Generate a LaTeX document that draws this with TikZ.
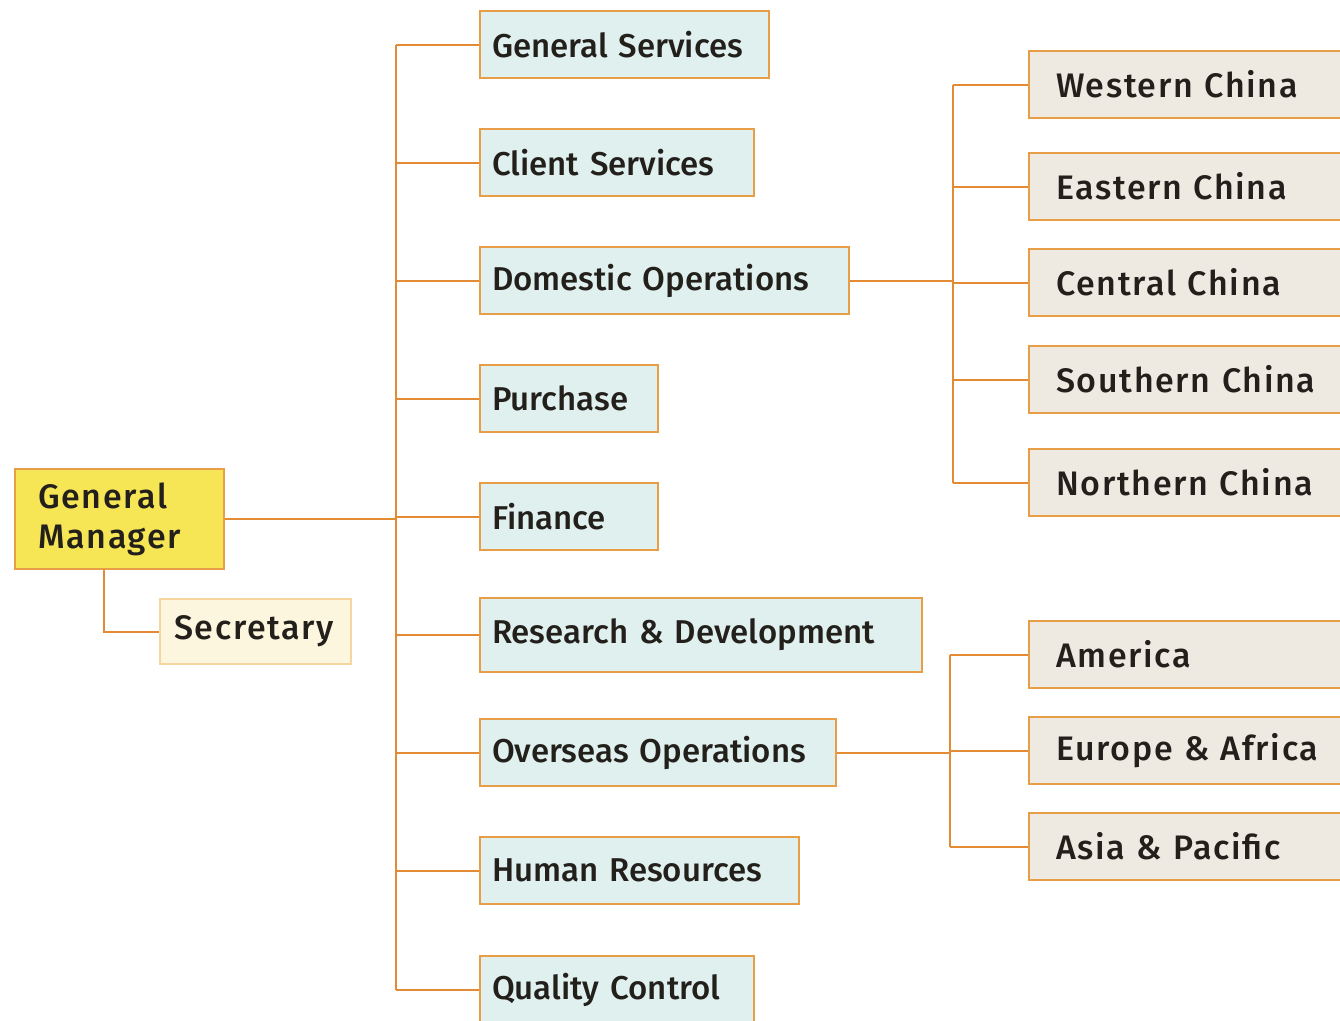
\documentclass[tikz,border=0pt]{standalone}
\usepackage{fontspec}
\setmainfont{Fira Sans}[UprightFont=* Medium]
\newfontfamily\widefont{Fira Sans}[UprightFont=* Medium, LetterSpace=5]
\usetikzlibrary{positioning}
\definecolor{orgorange}{RGB}{226,138,52}
\definecolor{orgedge}{RGB}{232,158,70}
\definecolor{orgtext}{RGB}{35,32,28}
\definecolor{unitfill}{RGB}{223,240,238}
\definecolor{regionfill}{RGB}{238,234,226}
\definecolor{headfill}{RGB}{246,230,86}
\definecolor{aidefill}{RGB}{253,246,222}
\definecolor{aideedge}{RGB}{246,214,158}
\tikzset{
  orgline/.style={line width=2pt, orgorange},
  orgbox/.style={rectangle, draw=orgedge, line width=2pt, anchor=north west,
                 align=left, inner ysep=0pt, text=orgtext,
                 font=\fontsize{33}{40}\selectfont},
  widebox/.style={orgbox, font=\widefont\fontsize{34}{40}\selectfont},
  unitbox/.style={orgbox, fill=unitfill, minimum height=67pt, inner xsep=12pt,
                  text width=#1},
  regionbox/.style={widebox, fill=regionfill, minimum height=67pt, inner xsep=27pt,
                    text width=300pt},
  headbox/.style={widebox, fill=headfill, minimum height=100pt, inner xsep=23pt,
                  text width=163pt},
  aidebox/.style={widebox, fill=aidefill, draw=aideedge, minimum height=65pt,
                  inner xsep=14pt, text width=163pt},
}
\begin{document}
\begin{tikzpicture}[x=1pt, y=-1pt]
  \useasboundingbox (0,0) rectangle (1340,1020);
  \clip (0,0) rectangle (1340,1020);
  \fill[white] (0,0) rectangle (1340,1020);

  % head and assistant
  \node[headbox] (gm)  at (14,468)  {General\\Manager};
  \node[aidebox] (sec) at (159,598) {Secretary};

  % departments
  \node[unitbox=265pt] (gs)  at (479,10)  {General Services};
  \node[unitbox=250pt] (cs)  at (479,128) {Client Services};
  \node[unitbox=345pt] (dom) at (479,246) {Domestic Operations};
  \node[unitbox=154pt] (pur) at (479,364) {Purchase};
  \node[unitbox=154pt] (fin) at (479,482) {Finance};
  \node[unitbox=418pt, minimum height=74pt] (rnd) at (479,597) {Research \& Development};
  \node[unitbox=332pt] (ovs) at (479,718) {Overseas Operations};
  \node[unitbox=295pt] (hr)  at (479,836) {Human Resources};
  \node[unitbox=250pt] (qc)  at (479,955) {Quality Control};

  % domestic regions
  \node[regionbox] (wch) at (1028,50)  {Western China};
  \node[regionbox] (ech) at (1028,152) {Eastern China};
  \node[regionbox] (cch) at (1028,248) {Central China};
  \node[regionbox] (sch) at (1028,345) {Southern China};
  \node[regionbox] (nch) at (1028,448) {Northern China};

  % overseas regions
  \node[regionbox] (ame) at (1028,620) {America};
  \node[regionbox] (eur) at (1028,716) {Europe \& Africa};
  \node[regionbox] (asp) at (1028,812) {Asia \& Pacific};

  \coordinate (trunk)  at (396,0);
  \coordinate (dtrunk) at (953,0);
  \coordinate (otrunk) at (950,0);

  % connectors
  \draw[orgline] ([xshift=-16pt]gm.south) |- (sec.west);
  \draw[orgline] (gm.east) -- (gm.east -| trunk);
  \draw[orgline] (gs.west -| trunk) -- (qc.west -| trunk);
  \foreach \u in {gs,cs,dom,pur,fin,rnd,ovs,hr,qc}
    \draw[orgline] (\u.west) -- (\u.west -| trunk);

  \draw[orgline] (dom.east) -- (dom.east -| dtrunk);
  \draw[orgline] (wch.west -| dtrunk) -- (nch.west -| dtrunk);
  \foreach \r in {wch,ech,cch,sch,nch}
    \draw[orgline] (\r.west) -- (\r.west -| dtrunk);

  \draw[orgline] (ovs.east) -- (ovs.east -| otrunk);
  \draw[orgline] (ame.west -| otrunk) -- (asp.west -| otrunk);
  \foreach \r in {ame,eur,asp}
    \draw[orgline] (\r.west) -- (\r.west -| otrunk);
\end{tikzpicture}
\end{document}
